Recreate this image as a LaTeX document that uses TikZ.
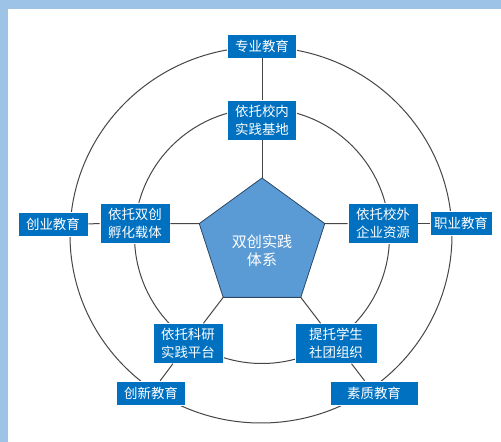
\documentclass[tikz,border=0pt]{standalone}
\usepackage{fontspec}
\setmainfont{Noto Sans CJK SC}
\usetikzlibrary{shapes.geometric}

\definecolor{bandblue}{RGB}{157,195,230}
\definecolor{boxblue}{RGB}{0,112,192}
\definecolor{pentblue}{RGB}{91,155,213}
\definecolor{pentedge}{RGB}{45,70,100}
\definecolor{ringgray}{RGB}{70,70,70}

\begin{document}
\begin{tikzpicture}[x=0.75pt,y=0.75pt,yscale=-1,xscale=1,
    ring/.style={draw=ringgray,line width=0.75pt},
    spoke/.style={draw=ringgray,line width=0.75pt},
    eduBox/.style={fill=boxblue,draw=white,line width=0.4pt,text=white,inner sep=0pt,
        minimum height=18pt,font=\fontsize{10.1}{13.5}\selectfont},
    baseBox/.style={eduBox,minimum height=30pt,align=center}]
    \useasboundingbox (0,0) rectangle (501,442);

    %Shape: Background
    \fill[white] (0,0) rectangle (501,442);
    \fill[bandblue] (0,0) rectangle (501,9.5);
    \fill[bandblue] (0,0) rectangle (8,442);

    %Shape: Outer Ring
    \draw[ring] (261,235) ellipse [x radius=191, y radius=188];
    %Shape: Inner Ring
    \draw[ring] (262,236) circle [radius=127.5];

    %Shape: Pentagon
    \node (pent) [regular polygon,regular polygon sides=5,minimum size=99pt,inner sep=0pt,outer sep=0pt,
        fill=pentblue,draw=pentedge,line width=0.6pt] at (262,244) {};
    % Text Node
    \node (core) [text=white,align=center,font=\fontsize{11.3}{13.5}\selectfont] at (262,251) {双创实践\\体系};

    % Inner ring boxes
    \node (xn) [baseBox,minimum width=51.75pt] at (262,120) {依托校内\\实践基地};
    \node (sc) [baseBox,minimum width=52.5pt] at (135,223.5) {依托双创\\孵化载体};
    \node (xw) [baseBox,minimum width=52.5pt] at (383,223.5) {依托校外\\企业资源};
    \node (ky) [baseBox,minimum width=52.5pt] at (188,343.5) {依托科研\\实践平台};
    \node (st) [baseBox,minimum width=61.5pt] at (336,343.5) {提托学生\\社团组织};

    % Outer ring boxes
    \node (zy) [eduBox,minimum width=51.75pt] at (262,46) {专业教育};
    \node (cy) [eduBox,minimum width=52.5pt] at (53,224) {创业教育};
    \node (jy) [eduBox,minimum width=46.5pt] at (461,223.5) {职业教育};
    \node (cx) [eduBox,minimum width=51.75pt] at (151,393) {创新教育};
    \node (sz) [eduBox,minimum width=66pt] at (374,393) {素质教育};

    %Straight Lines
    \draw[spoke] (pent.corner 1) -- (xn);
    \draw[spoke] (xn) -- (zy);
    \draw[spoke] (pent.corner 2) -- (sc);
    \draw[spoke] (sc) -- (cy);
    \draw[spoke] (pent.corner 5) -- (xw);
    \draw[spoke] (xw) -- (jy);
    \draw[spoke] (pent.corner 3) -- (ky);
    \draw[spoke] (ky) -- (cx);
    \draw[spoke] (pent.corner 4) -- (st);
    \draw[spoke] (st) -- (sz);

\end{tikzpicture}
\end{document}
